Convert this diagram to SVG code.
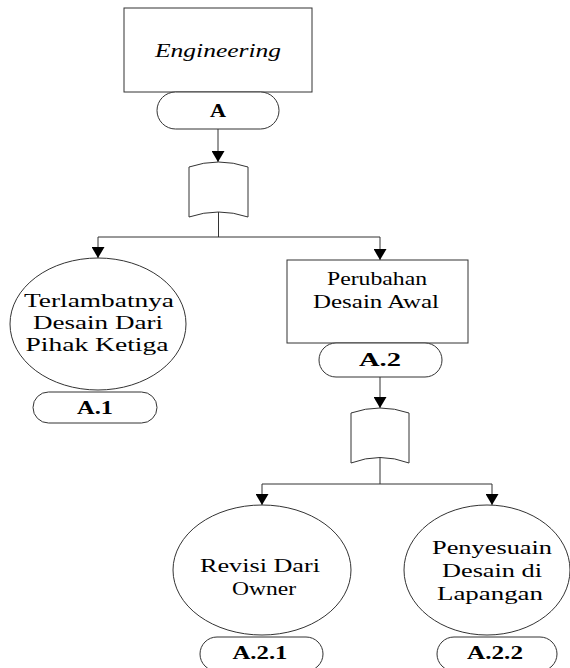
<svg xmlns="http://www.w3.org/2000/svg" width="570" height="668" viewBox="0 0 570 668">
<defs>
<marker id="arr" markerUnits="userSpaceOnUse" markerWidth="11" markerHeight="13" refX="11" refY="6.5" orient="auto">
<path d="M0,0 L11,6.5 L0,13 Z" fill="#000"/>
</marker>
<style>
.shape{fill:#fff;stroke:#333;stroke-width:1}
.line{fill:none;stroke:#333;stroke-width:1}
text{font-family:'Times New Roman','Liberation Serif','DejaVu Serif',serif;fill:#000;text-anchor:middle}
.t{font-size:19px}
.b{font-size:18px;font-weight:bold}
.i{font-style:italic}
</style>
</defs>
<rect width="570" height="668" fill="#fff"/>
<g id="connectors">
<line class="line" x1="218" y1="129" x2="218" y2="162" marker-end="url(#arr)"/>
<line class="line" x1="218.5" y1="212" x2="218.5" y2="237"/>
<line class="line" x1="98" y1="237" x2="380" y2="237"/>
<line class="line" x1="98" y1="237" x2="98" y2="258" marker-end="url(#arr)"/>
<line class="line" x1="380" y1="237" x2="380" y2="260" marker-end="url(#arr)"/>
<line class="line" x1="380" y1="377" x2="380" y2="408" marker-end="url(#arr)"/>
<line class="line" x1="380" y1="457" x2="380" y2="484"/>
<line class="line" x1="262" y1="484" x2="492" y2="484"/>
<line class="line" x1="262" y1="484" x2="262" y2="505" marker-end="url(#arr)"/>
<line class="line" x1="492" y1="484" x2="492" y2="505" marker-end="url(#arr)"/>
</g>
<g id="engineering">
<rect class="shape" x="124" y="8" width="188" height="84"/>
<text class="t i" x="218" y="57" textLength="126" lengthAdjust="spacingAndGlyphs">Engineering</text>
</g>
<g id="label-A">
<rect class="shape" x="157" y="92" width="122" height="37" rx="18.5"/>
<text class="b" x="218" y="117" textLength="16" lengthAdjust="spacingAndGlyphs">A</text>
</g>
<g id="doc1">
<path class="shape" d="M189,167 Q218.5,157 248,167 L248,217 Q218.5,207 189,217 Z"/>
</g>
<g id="terlambat">
<ellipse class="shape" cx="98" cy="324" rx="88" ry="66"/>
<text class="t" x="99" y="307" textLength="150" lengthAdjust="spacingAndGlyphs">Terlambatnya</text>
<text class="t" x="98" y="329" textLength="130" lengthAdjust="spacingAndGlyphs">Desain Dari</text>
<text class="t" x="97" y="351" textLength="143" lengthAdjust="spacingAndGlyphs">Pihak Ketiga</text>
</g>
<g id="label-A1">
<rect class="shape" x="33" y="392" width="124" height="31" rx="15.5"/>
<text class="b" x="95" y="414" textLength="36" lengthAdjust="spacingAndGlyphs">A.1</text>
</g>
<g id="perubahan">
<rect class="shape" x="287" y="260" width="181" height="83"/>
<text class="t" x="377" y="285" textLength="100" lengthAdjust="spacingAndGlyphs">Perubahan</text>
<text class="t" x="376" y="308" textLength="126" lengthAdjust="spacingAndGlyphs">Desain Awal</text>
</g>
<g id="label-A2">
<rect class="shape" x="319" y="343" width="123" height="34" rx="17"/>
<text class="b" x="380" y="366" textLength="42" lengthAdjust="spacingAndGlyphs">A.2</text>
</g>
<g id="doc2">
<path class="shape" d="M351,413 Q380,403 409,413 L409,463 Q380,452 351,463 Z"/>
</g>
<g id="revisi">
<ellipse class="shape" cx="262" cy="570" rx="89" ry="65"/>
<text class="t" x="260" y="572" textLength="120" lengthAdjust="spacingAndGlyphs">Revisi Dari</text>
<text class="t" x="264" y="595" textLength="64" lengthAdjust="spacingAndGlyphs">Owner</text>
</g>
<g id="penyesuain">
<ellipse class="shape" cx="487" cy="570" rx="83" ry="65"/>
<text class="t" x="492" y="554" textLength="120" lengthAdjust="spacingAndGlyphs">Penyesuain</text>
<text class="t" x="492" y="577" textLength="100" lengthAdjust="spacingAndGlyphs">Desain di</text>
<text class="t" x="490" y="600" textLength="106" lengthAdjust="spacingAndGlyphs">Lapangan</text>
</g>
<g id="label-A21">
<rect class="shape" x="200" y="637" width="123" height="34" rx="17"/>
<text class="b" x="260" y="659" textLength="55" lengthAdjust="spacingAndGlyphs">A.2.1</text>
</g>
<g id="label-A22">
<rect class="shape" x="437" y="637" width="120" height="34" rx="17"/>
<text class="b" x="495" y="659" textLength="56" lengthAdjust="spacingAndGlyphs">A.2.2</text>
</g>
</svg>
